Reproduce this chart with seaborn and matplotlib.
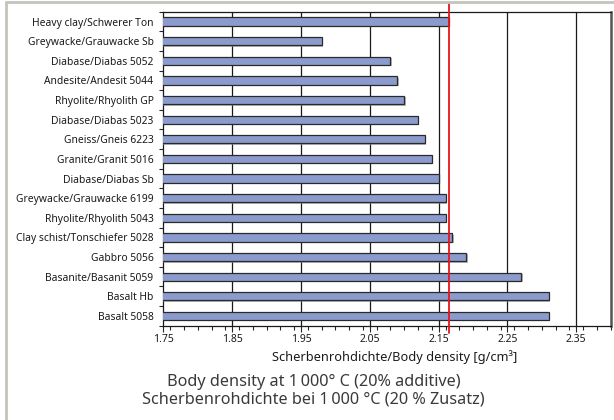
import numpy as np
import pandas as pd
import matplotlib
matplotlib.use("Agg")
import matplotlib.pyplot as plt
import matplotlib.patheffects as pe
from matplotlib.lines import Line2D
from matplotlib.ticker import MultipleLocator, FixedLocator
import seaborn as sns

# data
rocks = ["Heavy clay/Schwerer Ton", "Greywacke/Grauwacke Sb", "Diabase/Diabas 5052",
         "Andesite/Andesit 5044", "Rhyolite/Rhyolith GP", "Diabase/Diabas 5023",
         "Gneiss/Gneis 6223", "Granite/Granit 5016", "Diabase/Diabas Sb",
         "Greywacke/Grauwacke 6199", "Rhyolite/Rhyolith 5043", "Clay schist/Tonschiefer 5028",
         "Gabbro 5056", "Basanite/Basanit 5059", "Basalt Hb", "Basalt 5058"]
density = [2.165, 1.98, 2.08, 2.09, 2.10, 2.12, 2.13, 2.14, 2.15,
           2.16, 2.16, 2.17, 2.19, 2.27, 2.31, 2.31]
clay_ref = 2.165
xticks = [1.75, 1.85, 1.95, 2.05, 2.15, 2.25, 2.35]
xlabel = "Scherbenrohdichte/Body density [g/cm³]"
caption = ["Body density at 1\u2009000° C (20% additive)",
           "Scherbenrohdichte bei 1\u2009000 °C (20 % Zusatz)"]

df = pd.DataFrame({"rock": rocks, "density": density})

sns.set_style("white")
plt.rcParams["font.family"] = ["Noto Sans", "DejaVu Sans"]

fig = plt.figure(figsize=(6.14, 4.2), dpi=100)
ax = fig.add_axes([0.266, 0.2245, 0.7286, 0.7476])

sns.barplot(data=df, y="rock", x="density", orient="h", ax=ax,
            color="#8c9bcd", saturation=1, width=0.42,
            edgecolor="#2a2a2a", linewidth=0.9, zorder=3)
for p in ax.patches:
    p.set_path_effects([pe.SimplePatchShadow(offset=(1, -1), shadow_rgbFace="#888888", alpha=0.6),
                        pe.Normal()])

ax.set_xlim(1.75, 2.40)
ax.set_ylim(len(rocks) - 0.5, -0.5)

# vertical grid lines
ax.xaxis.set_major_locator(FixedLocator(xticks))
ax.xaxis.set_minor_locator(MultipleLocator(0.02))
ax.set_xticklabels([f"{t:.2f}" for t in xticks])
for t in xticks[1:]:
    ax.axvline(t, color="#1a1a1a", lw=0.9, zorder=1)

# reference line (heavy clay)
ax.axvline(clay_ref, ymin=-0.024, ymax=1.028, color="#e8141c", lw=1.3,
           clip_on=False, zorder=5)

ax.yaxis.set_minor_locator(FixedLocator(np.arange(len(rocks) + 1) - 0.5))
ax.tick_params(axis="y", which="major", length=0, pad=7, labelsize=7.4, labelcolor="#1a1a1a")
ax.tick_params(axis="y", which="minor", length=3, width=0.8, direction="out", left=True)
ax.tick_params(axis="x", which="major", length=4, width=0.8, direction="out", bottom=True,
               labelsize=7.5, pad=2, labelcolor="#1a1a1a")
ax.tick_params(axis="x", which="minor", length=3, width=0.8, direction="out", bottom=True)

for side in ["left", "top", "bottom"]:
    ax.spines[side].set_color("#1a1a1a")
    ax.spines[side].set_linewidth(0.9)
ax.spines["right"].set_color("#555555")
ax.spines["right"].set_linewidth(1.8)

ax.set_ylabel("")
ax.set_xlabel(xlabel, fontsize=9.2, color="#1a1a1a", va="center")
ax.xaxis.set_label_coords(0.518, -0.1)

fig.text(0.511, 1 - 382 / 420, caption[0], ha="center", va="center",
         fontsize=11.7, color="#3a3a3a")
fig.text(0.511, 1 - 400 / 420, caption[1], ha="center", va="center",
         fontsize=11.7, color="#3a3a3a")

# light frame of the figure box
fig.add_artist(Line2D([0.009, 0.009], [0, 0.996], transform=fig.transFigure,
                      color="#c4c4bc", lw=2))
fig.add_artist(Line2D([0.009, 1], [0.996, 0.996], transform=fig.transFigure,
                      color="#c4c4bc", lw=2))

fig.savefig("out.png", dpi=100, facecolor="white")
